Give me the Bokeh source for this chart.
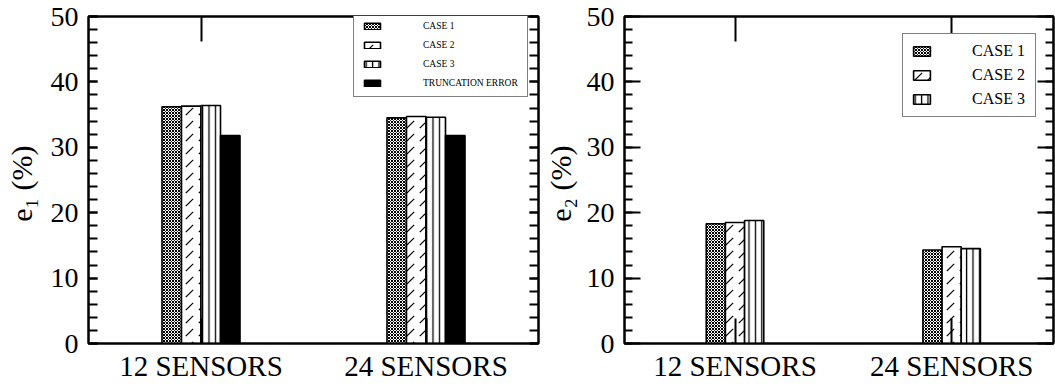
from bokeh.plotting import figure
from bokeh.layouts import row
from bokeh.models import (Range1d, FixedTicker, SingleIntervalTicker, LinearAxis,
                          Legend, LegendItem)
from bokeh.embed import file_html
from bokeh.resources import INLINE

# ---- data ----
sensors = ["12 SENSORS", "24 SENSORS"]
series_names = ["CASE 1", "CASE 2", "CASE 3", "TRUNCATION ERROR"]

e1_case1 = [36.2, 34.5]
e1_case2 = [36.3, 34.7]
e1_case3 = [36.4, 34.6]
e1_trunc = [31.8, 31.8]

e2_case1 = [18.3, 14.3]
e2_case2 = [18.5, 14.8]
e2_case3 = [18.8, 14.5]

y_max = 50
FONT = "Liberation Serif"

# fill / hatch styling per series
STYLES = [
    dict(fill_color="white", hatch_pattern="diagonal_cross", hatch_scale=3, hatch_weight=1),
    dict(fill_color="white", hatch_pattern="right_diagonal_dash", hatch_scale=13, hatch_weight=1.2),
    dict(fill_color="white", hatch_pattern="vertical_line", hatch_scale=6.4, hatch_weight=1.3),
    dict(fill_color="black", hatch_pattern=None),
]


def make_panel(series, ylabel, x_range, width, border_left, border_right,
               bar_width, major_in, minor_in, label_standoff):
    p = figure(width=width, height=391, x_range=x_range, y_range=Range1d(0, y_max),
               output_backend="svg", toolbar_location=None,
               min_border_left=border_left, min_border_right=border_right,
               min_border_top=16, min_border_bottom=48)
    p.grid.visible = False
    p.outline_line_color = "black"
    p.outline_line_width = 2
    p.background_fill_color = "white"
    p.border_fill_color = "white"

    positions = [i + 1 for i in range(len(sensors))]
    n = len(series)
    renderers = []
    for k, vals in enumerate(series):
        offset = (k - (n - 1) / 2) * bar_width
        st = STYLES[k]
        kw = dict(fill_color=st["fill_color"], line_color="black", line_width=1.6)
        if st["hatch_pattern"]:
            kw.update(hatch_pattern=st["hatch_pattern"], hatch_scale=st["hatch_scale"],
                      hatch_weight=st["hatch_weight"], hatch_color="black")
        r = p.vbar(x=[pos + offset for pos in positions], top=vals, bottom=0,
                   width=bar_width, **kw)
        renderers.append(r)

    # bottom category axis
    xa = p.xaxis[0]
    xa.ticker = FixedTicker(ticks=positions, minor_ticks=[])
    xa.major_label_overrides = {pos: name for pos, name in zip(positions, sensors)}
    xa.major_label_text_font = FONT
    xa.major_label_text_font_size = "29px"
    xa.major_label_text_color = "black"
    xa.major_label_standoff = 6
    xa.major_tick_in = 25
    xa.major_tick_out = 0
    xa.major_tick_line_width = 2
    xa.axis_line_width = 2

    # top axis: tick marks only
    top = LinearAxis(ticker=FixedTicker(ticks=positions, minor_ticks=[]),
                     major_label_text_font_size="1px", major_label_text_color=None,
                     major_label_standoff=0,
                     major_tick_in=25, major_tick_out=0, major_tick_line_width=2,
                     axis_line_width=2)
    p.add_layout(top, "above")

    # left value axis
    ya = p.yaxis[0]
    ya.ticker = SingleIntervalTicker(interval=10, num_minor_ticks=5)
    ya.major_label_text_font = FONT
    ya.major_label_text_font_size = "28px"
    ya.major_label_text_color = "black"
    ya.major_label_standoff = 10
    ya.major_tick_in = major_in
    ya.major_tick_out = 0
    ya.minor_tick_in = minor_in
    ya.minor_tick_out = 0
    ya.major_tick_line_width = 2
    ya.minor_tick_line_width = 2
    ya.axis_line_width = 2
    ya.axis_label = ylabel
    ya.axis_label_text_font = FONT
    ya.axis_label_text_font_size = "30px"
    ya.axis_label_text_font_style = "normal"
    ya.axis_label_text_color = "black"
    ya.axis_label_standoff = label_standoff

    # right axis: tick marks only
    right = LinearAxis(ticker=SingleIntervalTicker(interval=10, num_minor_ticks=5),
                       major_label_text_font_size="1px", major_label_text_color=None,
                       major_label_standoff=0,
                       major_tick_in=major_in, major_tick_out=0,
                       minor_tick_in=minor_in, minor_tick_out=0,
                       major_tick_line_width=2, minor_tick_line_width=2,
                       axis_line_width=2)
    p.add_layout(right, "right")
    return p, renderers


# ---- left panel: e1 ----
p1, r1 = make_panel([e1_case1, e1_case2, e1_case3, e1_trunc], "e\u2081  (%)",
                    Range1d(0.5, 2.5), 540, 88, 2, 0.0867, 9, 9, 10)
leg1 = Legend(items=[LegendItem(label=name, renderers=[r])
                     for name, r in zip(series_names, r1)],
              location=(265, 246), orientation="vertical",
              border_line_color="black", border_line_width=1.5,
              background_fill_color="white", background_fill_alpha=1,
              padding=8, spacing=9, margin=0,
              glyph_width=20, glyph_height=8, label_standoff=41, label_width=96,
              label_text_font=FONT, label_text_font_size="9.5px", label_text_color="black")
p1.add_layout(leg1)

# ---- right panel: e2 ----
p2, r2 = make_panel([e2_case1, e2_case2, e2_case3], "e\u2082  (%)",
                    Range1d(0.49, 2.47), 515, 82, 2, 0.0885, 16, 8, 7)
leg2 = Legend(items=[LegendItem(label=name, renderers=[r])
                     for name, r in zip(series_names[:3], r2)],
              location="top_right", orientation="vertical",
              border_line_color="black", border_line_width=1.5,
              background_fill_color="white", background_fill_alpha=1,
              padding=8, spacing=6, margin=17,
              glyph_width=21, glyph_height=12, label_standoff=40, label_width=55,
              label_text_font=FONT, label_text_font_size="16px", label_text_color="black")
p2.add_layout(leg2)

layout = row(p1, p2)
open("out.html", "w").write(file_html(layout, INLINE))
